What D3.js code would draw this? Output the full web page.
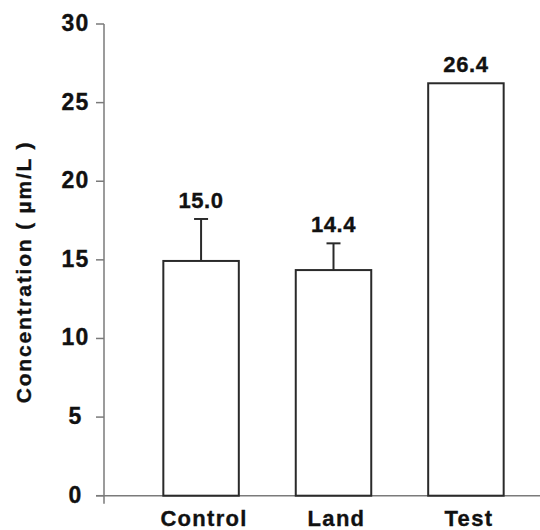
<!DOCTYPE html>
<html>
<head>
<meta charset="utf-8">
<script src="https://cdn.jsdelivr.net/npm/d3@7"></script>
<style>
  html, body { margin: 0; padding: 0; background: #fff; }
  text { font-family: "Liberation Sans", Arial, Helvetica, sans-serif; font-weight: bold; fill: #111; stroke: #111; stroke-width: 0.35px; }
</style>
</head>
<body>
<div id="chart"></div>
<script>
// data
let groups = ['Control', 'Land', 'Test'];
let means = [14.93, 14.35, 26.23];
let upperErr = [17.6, 16.05, null];
let valueLabels = ['15.0', '14.4', '26.4'];
let yTicks = [0, 5, 10, 15, 20, 25, 30];

let width = 540;
let height = 530;

let svg = d3.select('#chart').append('svg')
  .attr('width', width)
  .attr('height', height);

const y = d3.scaleLinear().domain([0, 30]).range([495.7, 24]);
const x = d3.scaleBand().domain(groups).range([104, 563])
  .paddingInner(0.43).paddingOuter(0.448);

const axisColor = '#7a7a7a';

// y axis: line, ticks, centred labels
const yAxis = svg.append('g');
yAxis.append('line')
  .attr('x1', 104).attr('x2', 104)
  .attr('y1', y(30)).attr('y2', y(0) + 8)
  .attr('stroke', axisColor).attr('stroke-width', 1.5);
yAxis.selectAll('line.tick')
  .data(yTicks)
  .enter().append('line')
  .attr('class', 'tick')
  .attr('x1', 96).attr('x2', 104)
  .attr('y1', d => y(d)).attr('y2', d => y(d))
  .attr('stroke', axisColor).attr('stroke-width', 1.5);
yAxis.selectAll('text')
  .data(yTicks)
  .enter().append('text')
  .attr('x', 75.5)
  .attr('y', d => y(d))
  .attr('dy', '0.3em')
  .attr('text-anchor', 'middle')
  .attr('font-size', 23)
  .attr('letter-spacing', 1.2)
  .text(d => d);

// x axis line
svg.append('line')
  .attr('x1', 96).attr('x2', width)
  .attr('y1', y(0)).attr('y2', y(0))
  .attr('stroke', axisColor).attr('stroke-width', 1.5);

// bars
svg.append('g')
  .selectAll('rect')
  .data(groups)
  .enter().append('rect')
  .attr('x', d => x(d))
  .attr('y', (d, i) => y(means[i]))
  .attr('width', x.bandwidth())
  .attr('height', (d, i) => y(0) - y(means[i]))
  .attr('fill', '#fff')
  .attr('stroke', '#2a2a2a')
  .attr('stroke-width', 2);

// upper error bars
const errs = svg.append('g').attr('stroke', '#2a2a2a').attr('stroke-width', 2);
groups.forEach((g, i) => {
  if (upperErr[i] == null) return;
  let cx = x(g) + x.bandwidth() / 2;
  errs.append('line')
    .attr('x1', cx).attr('x2', cx)
    .attr('y1', y(means[i])).attr('y2', y(upperErr[i]));
  errs.append('line')
    .attr('x1', cx - 7).attr('x2', cx + 7)
    .attr('y1', y(upperErr[i])).attr('y2', y(upperErr[i]));
});

// value labels above bars / error caps
svg.append('g')
  .selectAll('text')
  .data(groups)
  .enter().append('text')
  .attr('x', d => x(d) + x.bandwidth() / 2)
  .attr('y', (d, i) => y(upperErr[i] != null ? upperErr[i] : means[i]) - 11)
  .attr('text-anchor', 'middle')
  .attr('font-size', 22)
  .attr('letter-spacing', 0.6)
  .text((d, i) => valueLabels[i]);

// category labels
svg.append('g')
  .selectAll('text')
  .data(groups)
  .enter().append('text')
  .attr('x', d => x(d) + x.bandwidth() / 2 + 3)
  .attr('y', 526)
  .attr('text-anchor', 'middle')
  .attr('font-size', 22)
  .attr('letter-spacing', 1.3)
  .text(d => d);

// y axis title
svg.append('text')
  .attr('transform', 'translate(31,272) rotate(-90)')
  .attr('text-anchor', 'middle')
  .attr('font-size', 21)
  .attr('letter-spacing', 1.8)
  .text('Concentration ( \u00b5m/L )');
</script>
</body>
</html>
